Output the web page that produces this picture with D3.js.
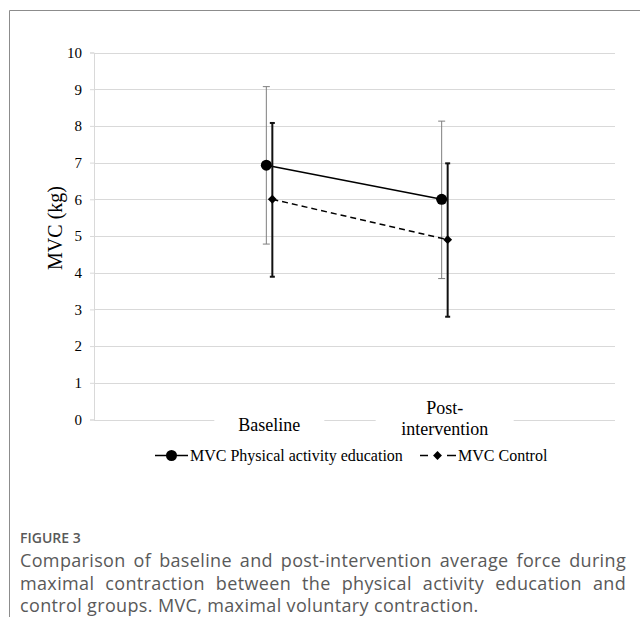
<!DOCTYPE html>
<html>
<head>
<meta charset="utf-8">
<script src="https://cdn.jsdelivr.net/npm/d3@7"></script>
<style>
  body { margin: 0; background: #fff; }
  #wrap { position: relative; width: 640px; height: 617px; overflow: hidden; }
  svg { position: absolute; left: 0; top: 0; }
  .caption {
    position: absolute; left: 20px; width: 606px;
    font-family: "Open Sans", sans-serif; color: #595959;
  }
  #figlabel { top: 528px; font-size: 14px; font-weight: 600; }
  #figtext { top: 549px; font-size: 18px; letter-spacing: 0.35px; line-height: 22.5px; text-align: justify; text-align-last: left; }
</style>
</head>
<body>
<div id="wrap">
  <div id="chart"></div>
  <div class="caption" id="figlabel">FIGURE 3</div>
  <div class="caption" id="figtext">Comparison of baseline and post-intervention average force during maximal contraction between the physical activity education and control groups. MVC, maximal voluntary contraction.</div>
</div>
<script>
var width = 640;
var height = 617;

// data
var categories = ["Baseline", "Post-intervention"];
var categoryLines = [["Baseline"], ["Post-", "intervention"]];
var seriesNames = ["MVC Physical activity education", "MVC Control"];
var paMean = [6.93, 6.0];
var paUpper = [9.07, 8.13];
var paLower = [4.78, 3.84];
var ctrlMean = [6.0, 4.9];
var ctrlUpper = [8.08, 6.98];
var ctrlLower = [3.89, 2.8];
var yTicks = [0, 1, 2, 3, 4, 5, 6, 7, 8, 9, 10];

var serif = "'Liberation Serif', 'Times New Roman', serif";

var svg = d3.select("#chart")
    .append("svg")
    .attr("width", width)
    .attr("height", height);

// frame
svg.append("path")
    .attr("d", "M9.5," + height + "V10.5H" + width)
    .attr("fill", "none")
    .attr("stroke", "#8c8c8c")
    .attr("stroke-width", 1);

var y = d3.scaleLinear().domain([0, 10]).range([419.5, 52.5]);
var x = d3.scalePoint().domain(categories).range([94, 620]).padding(1);
var left = 94, right = 615;
var off = 3;

// gridlines
svg.append("g")
    .selectAll("line")
    .data(yTicks.filter(function (d) { return d > 0; }))
    .enter().append("line")
    .attr("x1", left).attr("x2", right)
    .attr("y1", function (d) { return Math.round(y(d)) + 0.5; })
    .attr("y2", function (d) { return Math.round(y(d)) + 0.5; })
    .attr("stroke", "#d9d9d9");

// y axis
var yAxis = d3.axisLeft(y).tickValues(yTicks).tickSize(4).tickPadding(8);
var gy = svg.append("g")
    .attr("transform", "translate(" + left + ",0)")
    .call(yAxis);
gy.select(".domain").attr("stroke", "#d9d9d9");
gy.selectAll(".tick line").attr("stroke", "#d9d9d9");
gy.selectAll(".tick text")
    .attr("fill", "#000")
    .style("font-family", serif)
    .style("font-size", "15px");

svg.append("text")
    .attr("transform", "translate(62,228) rotate(-90)")
    .attr("text-anchor", "middle")
    .style("font-family", serif)
    .style("font-size", "20px")
    .text("MVC (kg)");

// x axis baseline
svg.append("line")
    .attr("x1", left).attr("x2", right)
    .attr("y1", Math.round(y(0)) + 0.5).attr("y2", Math.round(y(0)) + 0.5)
    .attr("stroke", "#d9d9d9");

// category labels with white boxes over the axis
var cat = svg.append("g").selectAll("g")
    .data(categories)
    .enter().append("g")
    .attr("transform", function (d) { return "translate(" + x(d) + ",0)"; });

cat.append("rect")
    .attr("x", function (d, i) { return i === 0 ? -55 : -69; })
    .attr("width", function (d, i) { return i === 0 ? 110 : 138; })
    .attr("y", 400).attr("height", 40)
    .attr("fill", "#fff");

cat.each(function (d, i) {
    var lines = categoryLines[i];
    var t = d3.select(this).append("text")
        .attr("text-anchor", "middle")
        .style("font-family", serif)
        .style("font-size", "18px");
    lines.forEach(function (l, k) {
        t.append("tspan")
            .attr("x", 0)
            .attr("y", lines.length === 1 ? 431 : 414 + k * 21)
            .text(l);
    });
});

// lines
var paLine = d3.line()
    .x(function (d, i) { return x(categories[i]) - off; })
    .y(function (d) { return y(d); });
var ctrlLine = d3.line()
    .x(function (d, i) { return x(categories[i]) + off; })
    .y(function (d) { return y(d); });

// error bars: physical activity (thin grey)
var paErr = svg.append("g").selectAll("g")
    .data(categories)
    .enter().append("g")
    .attr("stroke", "#7f7f7f")
    .attr("stroke-width", 1);
paErr.append("line")
    .attr("x1", function (d) { return x(d) - off; })
    .attr("x2", function (d) { return x(d) - off; })
    .attr("y1", function (d, i) { return y(paUpper[i]); })
    .attr("y2", function (d, i) { return y(paLower[i]); });
paErr.append("line")
    .attr("x1", function (d) { return x(d) - off - 3.5; })
    .attr("x2", function (d) { return x(d) - off + 3.5; })
    .attr("y1", function (d, i) { return y(paUpper[i]); })
    .attr("y2", function (d, i) { return y(paUpper[i]); });
paErr.append("line")
    .attr("x1", function (d) { return x(d) - off - 3.5; })
    .attr("x2", function (d) { return x(d) - off + 3.5; })
    .attr("y1", function (d, i) { return y(paLower[i]); })
    .attr("y2", function (d, i) { return y(paLower[i]); });

svg.append("path")
    .datum(paMean)
    .attr("d", paLine)
    .attr("fill", "none")
    .attr("stroke", "#000")
    .attr("stroke-width", 1.5);

svg.append("path")
    .datum(ctrlMean)
    .attr("d", ctrlLine)
    .attr("fill", "none")
    .attr("stroke", "#000")
    .attr("stroke-width", 1.5)
    .attr("stroke-dasharray", "6,4");

// error bars: control (thick black)
var ctrlErr = svg.append("g").selectAll("g")
    .data(categories)
    .enter().append("g")
    .attr("stroke", "#111")
    .attr("stroke-width", 2);
ctrlErr.append("line")
    .attr("x1", function (d) { return x(d) + off; })
    .attr("x2", function (d) { return x(d) + off; })
    .attr("y1", function (d, i) { return y(ctrlUpper[i]); })
    .attr("y2", function (d, i) { return y(ctrlLower[i]); });
ctrlErr.append("line")
    .attr("x1", function (d) { return x(d) + off - 2.5; })
    .attr("x2", function (d) { return x(d) + off + 2.5; })
    .attr("y1", function (d, i) { return y(ctrlUpper[i]); })
    .attr("y2", function (d, i) { return y(ctrlUpper[i]); });
ctrlErr.append("line")
    .attr("x1", function (d) { return x(d) + off - 2.5; })
    .attr("x2", function (d) { return x(d) + off + 2.5; })
    .attr("y1", function (d, i) { return y(ctrlLower[i]); })
    .attr("y2", function (d, i) { return y(ctrlLower[i]); });

// markers
svg.append("g").selectAll("circle")
    .data(paMean)
    .enter().append("circle")
    .attr("cx", function (d, i) { return x(categories[i]) - off; })
    .attr("cy", function (d) { return y(d); })
    .attr("r", 5.5)
    .attr("fill", "#000");

var diamond = d3.symbol().type(d3.symbolDiamond2).size(50);
svg.append("g").selectAll("path")
    .data(ctrlMean)
    .enter().append("path")
    .attr("d", diamond)
    .attr("transform", function (d, i) {
        return "translate(" + (x(categories[i]) + off) + "," + y(d) + ")";
    })
    .attr("fill", "#000");

// legend
var ly = 455.5;
var leg = svg.append("g");
leg.append("line")
    .attr("x1", 155).attr("x2", 188).attr("y1", ly).attr("y2", ly)
    .attr("stroke", "#000").attr("stroke-width", 1.5);
leg.append("circle").attr("cx", 171.5).attr("cy", ly).attr("r", 5.5).attr("fill", "#000");
leg.append("text")
    .attr("x", 190).attr("y", ly + 5)
    .style("font-family", serif)
    .style("font-size", "16px")
    .text(seriesNames[0]);

leg.selectAll("line.dash")
    .data([[420, 428], [447, 456]])
    .enter().append("line")
    .attr("class", "dash")
    .attr("x1", function (d) { return d[0]; })
    .attr("x2", function (d) { return d[1]; })
    .attr("y1", ly).attr("y2", ly)
    .attr("stroke", "#000").attr("stroke-width", 1.5);
leg.append("path")
    .attr("d", diamond)
    .attr("transform", "translate(437.5," + ly + ")")
    .attr("fill", "#000");
leg.append("text")
    .attr("x", 458).attr("y", ly + 5)
    .style("font-family", serif)
    .style("font-size", "16px")
    .text(seriesNames[1]);
</script>
</body>
</html>
